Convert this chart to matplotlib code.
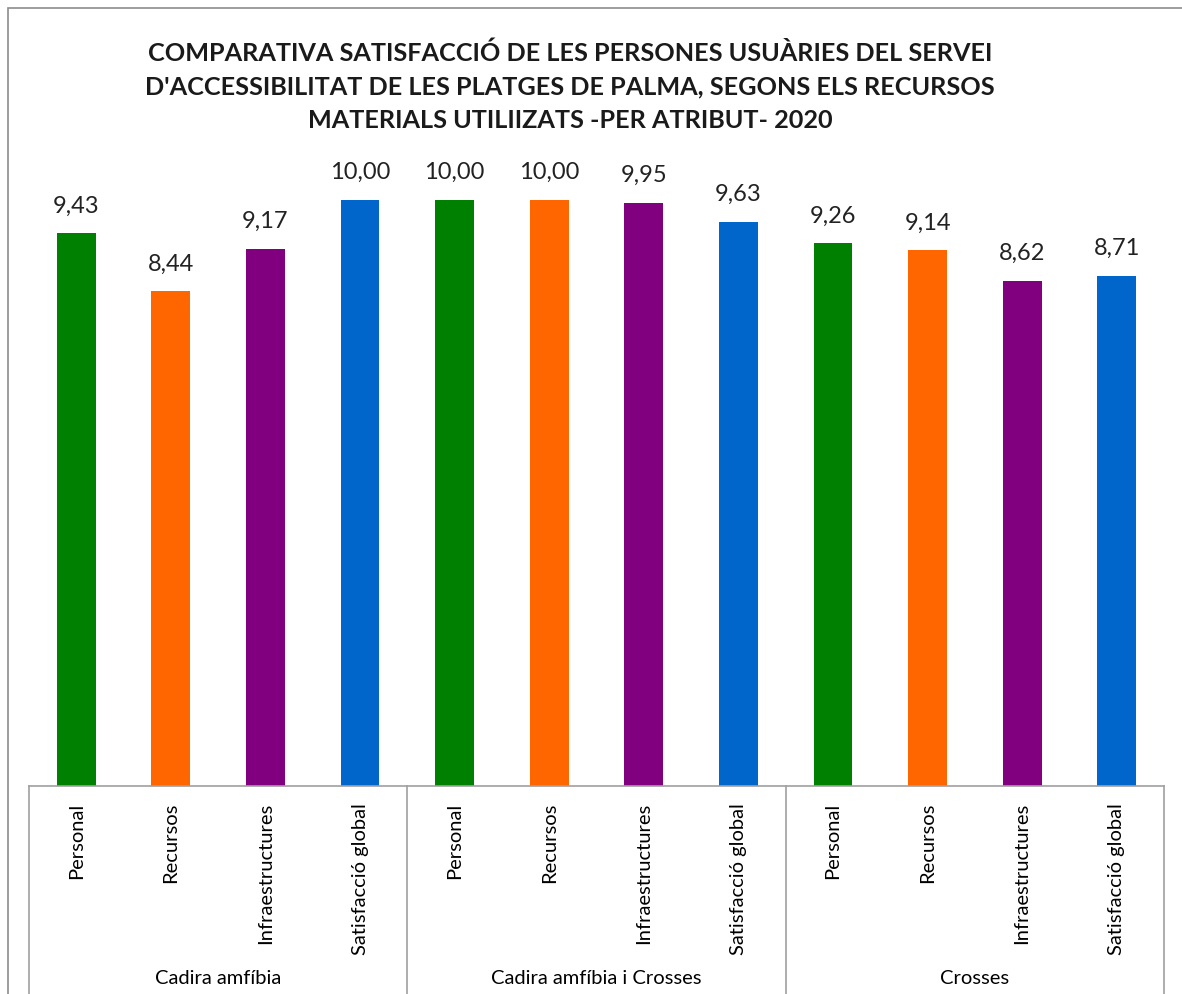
import matplotlib.pyplot as plt
import matplotlib.transforms as mtransforms
from matplotlib.patches import Rectangle

# Data
groups = ["Cadira amfíbia", "Cadira amfíbia i Crosses", "Crosses"]
attributes = ["Personal", "Recursos", "Infraestructures", "Satisfacció global"]
values = [9.43, 8.44, 9.17, 10.00,
          10.00, 10.00, 9.95, 9.63,
          9.26, 9.14, 8.62, 8.71]
colors = ["#008000", "#FF6600", "#800080", "#0066CC"]

title = ("COMPARATIVA SATISFACCIÓ DE LES PERSONES USUÀRIES DEL SERVEI\n"
         "D'ACCESSIBILITAT DE LES PLATGES DE PALMA, SEGONS ELS RECURSOS\n"
         "MATERIALS UTILIIZATS -PER ATRIBUT- 2020")

plt.rcParams['font.family'] = ['Lato', 'DejaVu Sans']

fig = plt.figure(figsize=(11.82, 9.94), dpi=100)
ax = fig.add_axes([29 / 1182, 1 - 786 / 994, (1164 - 29) / 1182, (786 - 150) / 994])

n_groups = len(groups)
n_attr = len(attributes)
xs = list(range(n_groups * n_attr))
bar_colors = [colors[i % n_attr] for i in xs]

bars = ax.bar(xs, values, width=0.41, color=bar_colors)
ax.bar_label(bars, labels=[("%.2f" % v).replace(".", ",") for v in values],
             padding=12, fontsize=17, color="#222222")

ax.set_xlim(-0.5, len(xs) - 0.5)
ax.set_ylim(0, 10 * (786 - 150) / (786 - 200))

for s in ax.spines.values():
    s.set_visible(False)
ax.set_yticks([])
ax.set_xticks(xs)
ax.set_xticklabels(attributes * n_groups, rotation=90, fontsize=14.5, va="top")
ax.tick_params(axis="x", length=0, pad=12)

# table-style category axis
trans = mtransforms.blended_transform_factory(ax.transData, ax.transAxes)
line_col = "#A0A0A0"
ax.plot([-0.5, len(xs) - 0.5], [0, 0], color=line_col, lw=1.2, transform=trans, clip_on=False)
for g in range(n_groups + 1):
    xb = g * n_attr - 0.5
    ax.plot([xb, xb], [0, -0.4], color=line_col, lw=1.2, transform=trans, clip_on=False)
for g, name in enumerate(groups):
    xc = g * n_attr + (n_attr - 1) / 2
    ax.text(xc, -(978 - 786) / 636, name, transform=trans, ha="center", va="center",
            fontsize=14.5)

# title
fig.text(570 / 1182, 1 - 87 / 994, title, ha="center", va="center", fontsize=18.2,
         fontweight="bold", linespacing=1.55, color="#1a1a1a")

# outer chart border (cropped on right and bottom)
fig.patches.append(Rectangle((8 / 1182, -0.1), 2, 0.1 + 1 - 8 / 994, transform=fig.transFigure,
                             fill=False, edgecolor="#8C8C8C", lw=1.2))

fig.savefig("out.png", dpi=100)
